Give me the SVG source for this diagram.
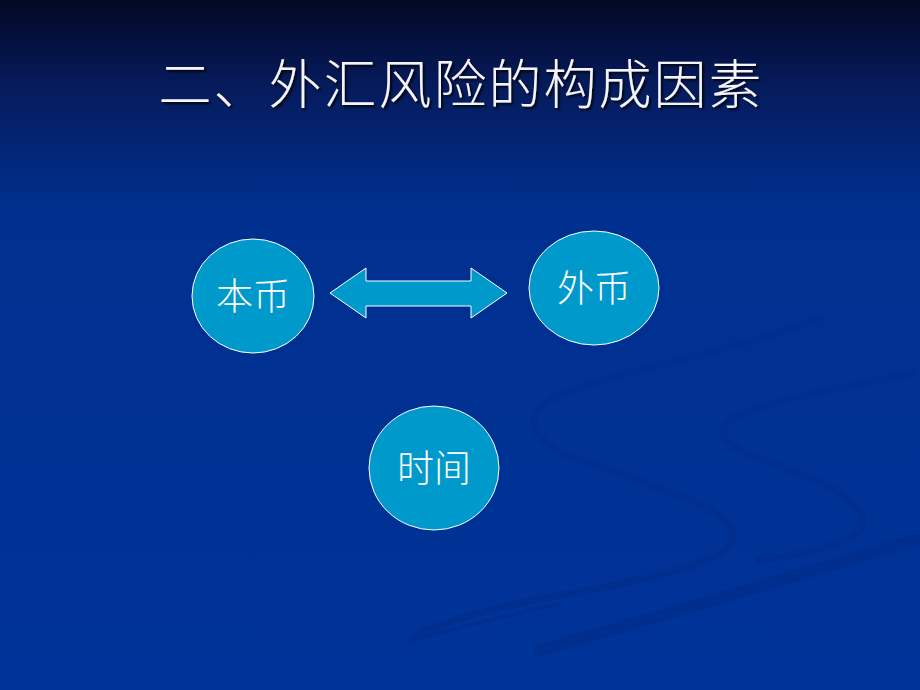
<svg xmlns="http://www.w3.org/2000/svg" width="920" height="690" viewBox="0 0 920 690">
<defs>
<linearGradient id="bg" x1="0" y1="0" x2="0" y2="1">
<stop offset="0" stop-color="#020824"/>
<stop offset="0.12" stop-color="#061a5a"/>
<stop offset="0.3" stop-color="#00308f"/>
<stop offset="1" stop-color="#003399"/>
</linearGradient>
<filter id="sh" x="-5%" y="-20%" width="110%" height="140%">
<feDropShadow dx="2" dy="2" stdDeviation="0.8" flood-color="#000000" flood-opacity="0.8"/>
</filter>
<style>
.node{fill:#0099cc;stroke:#ffffff;stroke-width:1}
.lbl{font-family:"Liberation Sans","Noto Sans CJK SC",sans-serif;font-size:37px;font-weight:300;fill:#ffffff;text-anchor:middle}
.title{font-family:"Liberation Serif","Noto Sans CJK SC",serif;font-size:53px;font-weight:300;letter-spacing:2px;fill:#f4f4fa;text-anchor:middle}
.swirl{fill:none;stroke:#002e8e;stroke-linecap:round}
</style>
</defs>
<rect width="920" height="690" fill="url(#bg)"/>
<g id="background-swirls">
<path class="swirl" stroke-width="7" d="M820 318 C740 350 620 370 560 395 C520 412 525 440 580 460 C650 485 720 505 732 530 C745 560 650 580 560 595 C480 610 430 625 410 640"/>
<path class="swirl" stroke-width="7" d="M915 372 C840 390 760 400 730 420 C710 435 730 450 790 470 C840 488 870 510 862 528 C850 545 800 555 760 560"/>
<path class="swirl" stroke-width="12" d="M540 650 C650 620 780 580 915 540"/>
<path class="swirl" stroke-width="4" d="M410 640 C470 625 520 612 560 604"/>
</g>
<g id="title" filter="url(#sh)">
<text class="title" x="461" y="104">二、外汇风险的构成因素</text>
</g>
<g id="connectors">
<path id="double-arrow" class="node" d="M330 293 L366 268 L366 281 L471 281 L471 268 L507 293 L471 318 L471 306 L366 306 L366 318 Z"/>
</g>
<g id="node-bencurrency">
<ellipse class="node" cx="253" cy="296" rx="61" ry="57"/>
<text class="lbl" x="253" y="310">本币</text>
</g>
<g id="node-waicurrency">
<ellipse class="node" cx="594" cy="288" rx="65" ry="57"/>
<text class="lbl" x="594" y="302">外币</text>
</g>
<g id="node-time">
<ellipse class="node" cx="434" cy="468" rx="65" ry="62"/>
<text class="lbl" x="434" y="482">时间</text>
</g>
</svg>
